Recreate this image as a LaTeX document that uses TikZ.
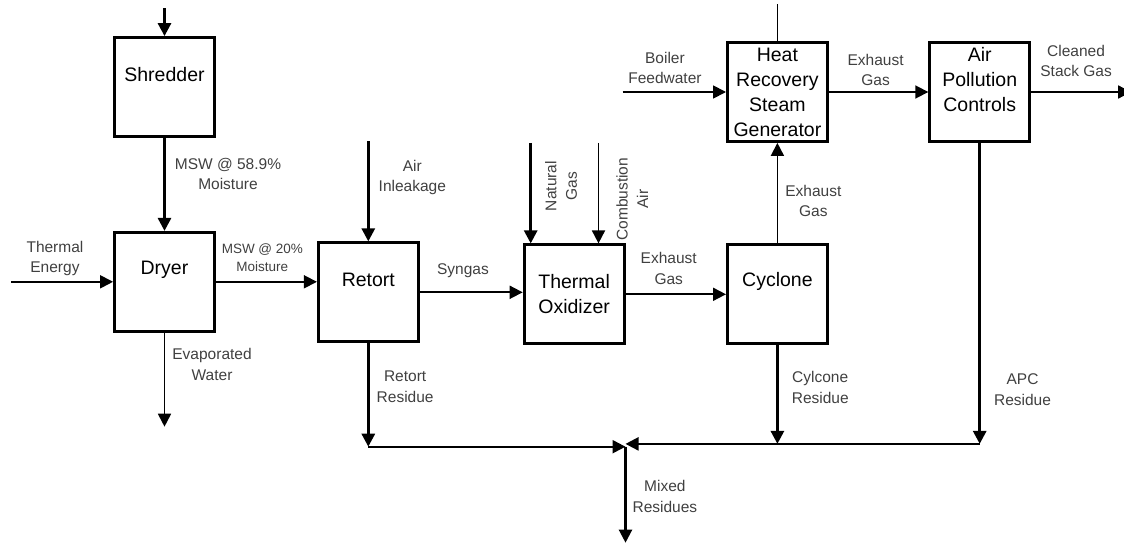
\documentclass[tikz,border=0pt]{standalone}
\usepackage{fontspec}
\setmainfont{Liberation Sans}
\usetikzlibrary{arrows.meta, positioning}

\begin{document}
\begin{tikzpicture}[x=1pt, y=-1pt,
    unit/.style={draw, line width=2.8pt, minimum width=100pt, minimum height=99pt,
                 font=\fontsize{19.5}{25}\selectfont, align=center},
    upper/.style={label={[font=\fontsize{19.5}{25}\selectfont, align=center, yshift=12pt]center:{#1}}},
    lab/.style={font=\fontsize{15.5}{20.5}\selectfont, text=black!75, align=center, inner sep=1pt},
    small/.style={lab, font=\fontsize{13.5}{18}\selectfont},
    heavy/.style={line width=2.8pt, -{Triangle[length=13pt, width=13pt]}},
    medium/.style={line width=2.2pt, -{Triangle[length=13pt, width=13pt]}},
    light/.style={line width=1.8pt, -{Triangle[length=13pt, width=13pt]}}
  ]
  \useasboundingbox (0,0) rectangle (1124,546);
  % process units
  \node[unit, upper=Shredder] (shred) at (164.5,87) {};
  \node[unit, upper=Dryer, below=93pt of shred] (dryer) {};
  \node[unit, upper=Retort, right=101pt of dryer, yshift=-10.5pt] (retort) {};
  \node[unit, right=103pt of retort, yshift=-2pt] (tox) {Thermal\\Oxidizer};
  \node[unit, upper=Cyclone, right=100.5pt of tox, yshift=0.5pt] (cyc) {};
  \node[unit, above=100pt of cyc] (hrsg) {Heat\\Recovery\\Steam\\Generator};
  \node[unit, upper={Air\\Pollution\\Controls}, right=99.5pt of hrsg] (apc) {};

  % free ends
  \coordinate[above=28pt of shred] (feed);
  \coordinate[left=102pt of dryer] (heat);
  \coordinate[below=94pt of dryer] (evap);
  \coordinate[above=100pt of retort] (air);
  \coordinate (ngas) at ([xshift=8pt, yshift=100.5pt]tox.north west);
  \coordinate (cair) at ([xshift=-27pt, yshift=100.5pt]tox.north east);
  \coordinate[above=37pt of hrsg] (steam);
  \coordinate[left=103.5pt of hrsg] (bfw);
  \coordinate[right=100pt of apc] (stack);
  \coordinate[below=301pt of apc] (apcbot);
  \coordinate[below=103.5pt of retort] (retbot);
  \coordinate (mix) at (tox.east |- retbot);
  \coordinate[below=96pt of mix] (out);

  % solids and gas flows
  \draw[heavy] (feed) -- (shred);
  \draw[heavy] (shred) -- node[lab, right=8pt, pos=0.39] {MSW @ 58.9\%\\Moisture} (dryer);
  \draw[light] (heat) -- node[lab, above=4pt, pos=0.43] {Thermal\\Energy} (dryer);
  \draw[light] (dryer) -- node[small, above=8pt, pos=0.46] {MSW @ 20\%\\Moisture} (dryer -| retort.west);
  \draw[light] (dryer) -- node[lab, right=6pt, pos=0.34] {Evaporated\\Water} (evap);
  \draw[heavy] (air) -- node[lab, right=8pt, pos=0.36] {Air\\Inleakage} (retort);
  \draw[light] (retort) -- node[lab, above=13pt, pos=0.42] {Syngas} (retort -| tox.west);
  \draw[heavy] (ngas) -- node[lab, xshift=12pt, rotate=90, anchor=north, pos=0.43] {Natural\\Gas} (ngas |- tox.north);
  \draw[light] (cair) -- node[lab, xshift=16pt, rotate=90, anchor=north, pos=0.56] {Combustion\\Air} (cair |- tox.north);
  \draw[light] (tox) -- node[lab, above=8pt, pos=0.43] {Exhaust\\Gas} (tox -| cyc.west);
  \draw[light] (cyc) -- node[lab, right=6pt, pos=0.42] {Exhaust\\Gas} (hrsg);
  \draw[line width=1.8pt] (steam) -- (hrsg);
  \draw[light] (bfw) -- node[lab, above=6pt, pos=0.41] {Boiler\\Feedwater} (hrsg);
  \draw[light] (hrsg) -- node[lab, above=4pt, pos=0.47] {Exhaust\\Gas} (apc);
  \draw[light] (apc) -- node[lab, above=13pt, pos=0.45] {Cleaned\\Stack Gas} (stack);

  % residues
  \draw[heavy] (apc) -- node[lab, right=12pt, pos=0.82] {APC\\Residue} (apcbot);
  \draw[heavy] (cyc) -- node[lab, right=12pt, pos=0.43] {Cylcone\\Residue} (cyc |- apcbot);
  \draw[heavy] (retort) -- node[lab, right=6pt, pos=0.42] {Retort\\Residue} (retbot);
  \draw[medium] (retbot) -- (mix);
  \draw[medium] (apcbot) -- (mix |- apcbot);
  \draw[medium] (mix) -- node[lab, right=5pt, pos=0.52] {Mixed\\Residues} (out);
\end{tikzpicture}
\end{document}
